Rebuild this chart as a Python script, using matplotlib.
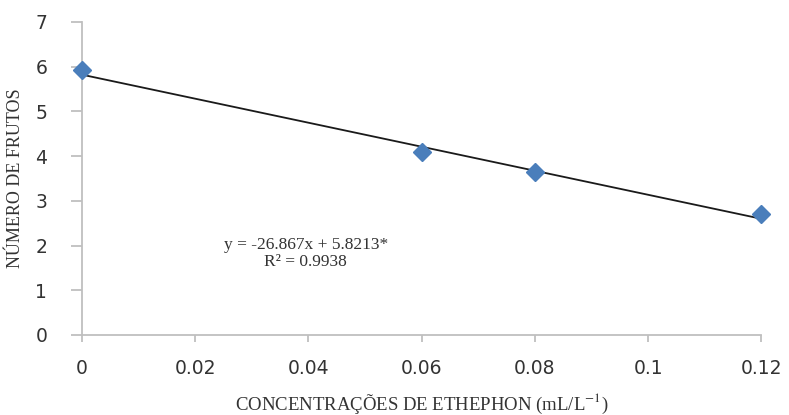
import numpy as np
import matplotlib
matplotlib.use("Agg")
import matplotlib.pyplot as plt

# data
concentracao = [0.0, 0.06, 0.08, 0.12]
num_frutos = [5.93, 4.09, 3.64, 2.70]

# linear fit shown on the chart
slope = -26.867
intercept = 5.8213
eq_text = "y = -26.867x + 5.8213*\nR² = 0.9938"

x_ticks = [0, 0.02, 0.04, 0.06, 0.08, 0.1, 0.12]
x_ticklabels = ["0", "0.02", "0.04", "0.06", "0.08", "0.1", "0.12"]
y_ticks = [0, 1, 2, 3, 4, 5, 6, 7]

plt.rcParams['mathtext.fontset'] = 'stix'

fig = plt.figure(figsize=(7.89, 4.15), dpi=100)
ax = fig.add_axes([0.104, 0.193, 0.861, 0.754])

ax.plot(concentracao, num_frutos, linestyle='none', marker='D', markersize=9,
        color='#4a7ebb', zorder=3, clip_on=False)

xfit = np.array([concentracao[0], concentracao[-1]])
ax.plot(xfit, slope * xfit + intercept, color='#1a1a1a', linewidth=1.3, zorder=2,
        clip_on=False)

ax.set_xlim(0, 0.12)
ax.set_ylim(0, 7)
ax.set_xticks(x_ticks)
ax.set_xticklabels(x_ticklabels)
ax.set_yticks(y_ticks)

for side in ['top', 'right']:
    ax.spines[side].set_visible(False)
for side in ['left', 'bottom']:
    ax.spines[side].set_color('#bfbfbf')
    ax.spines[side].set_linewidth(1.3)

ax.tick_params(axis='both', colors='#bfbfbf', labelcolor='#333333', labelsize=13.5,
               width=1.3, direction='out')
ax.tick_params(axis='x', length=5, pad=12)
ax.tick_params(axis='y', length=8, pad=17)
for lbl in ax.get_xticklabels() + ax.get_yticklabels():
    lbl.set_family('DejaVu Sans')

ax.set_xlabel("CONCENTRAÇÕES DE ETHEPHON (mL/L$^{-1}$)", family='Liberation Serif',
              fontsize=13.5, color='#333333', labelpad=10)
ax.set_ylabel("NÚMERO DE FRUTOS", family='Liberation Serif', fontsize=13,
              color='#333333', labelpad=8)

ax.text(0.0395, 1.83, eq_text, family='Liberation Serif', fontsize=12.5,
        color='#333333', ha='center', va='center', linespacing=1.1)

fig.savefig("out.png", dpi=100)
